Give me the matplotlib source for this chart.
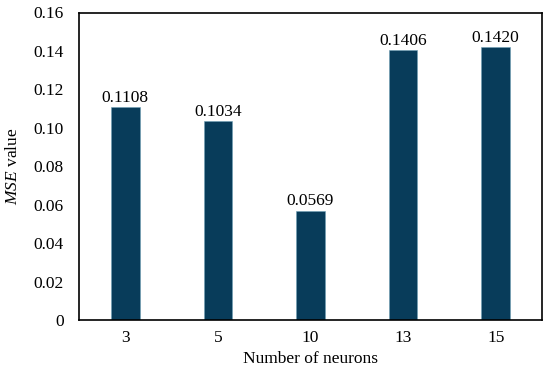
import numpy as np
import matplotlib.pyplot as plt

plt.rcParams['font.family'] = ['Liberation Serif', 'DejaVu Serif']
plt.rcParams['mathtext.fontset'] = 'custom'
plt.rcParams['mathtext.rm'] = 'Liberation Serif'
plt.rcParams['mathtext.it'] = 'Liberation Serif:italic'

neurons = ['3', '5', '10', '13', '15']
mse = [0.1108, 0.1034, 0.0569, 0.1406, 0.1420]
yticks = [0, 0.02, 0.04, 0.06, 0.08, 0.10, 0.12, 0.14, 0.16]
ytick_labels = ['0', '0.02', '0.04', '0.06', '0.08', '0.10', '0.12', '0.14', '0.16']

fig = plt.figure(figsize=(5.5, 3.68), dpi=100)
ax = fig.add_axes([79 / 550, 48 / 368, 463 / 550, 307.5 / 368])

x = np.arange(len(neurons))
bars = ax.bar(x, mse, width=0.31, color='#083c5a', edgecolor='#6f9fb5', linewidth=0.4)
for b, v in zip(bars, mse):
    ax.text(b.get_x() + b.get_width() / 2, v + 0.0006, '%.4f' % v,
            ha='center', va='bottom', fontsize=12.5)

ax.set_xlim(-0.5, len(neurons) - 0.5)
ax.set_ylim(0, 0.16)
ax.set_xticks(x)
ax.set_xticklabels(neurons)
ax.set_yticks(yticks)
ax.set_yticklabels(ytick_labels)
ax.tick_params(length=0, labelsize=12.5, pad=11)
ax.tick_params(axis='x', pad=7)
for s in ax.spines.values():
    s.set_linewidth(1.2)

ax.set_xlabel('Number of neurons', fontsize=12.5, labelpad=4)
ax.set_ylabel('$\\mathit{MSE}$ value', fontsize=12.5, labelpad=9)

fig.savefig('out.png', dpi=100)
